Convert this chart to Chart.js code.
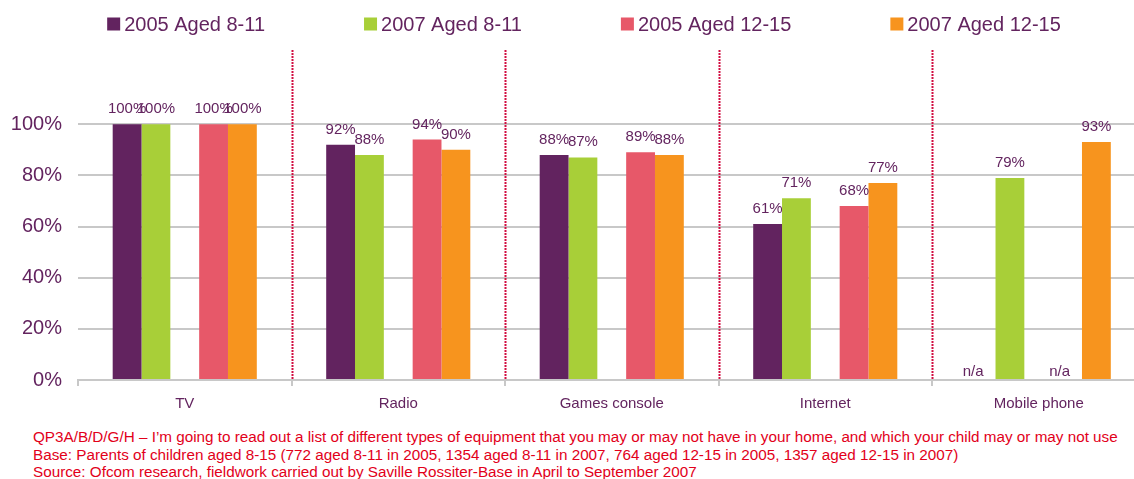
<!DOCTYPE html>
<html>
<head>
<meta charset="utf-8">
<title>Equipment in the home</title>
<script src="https://cdn.jsdelivr.net/npm/chart.js@4.4.2/dist/chart.umd.min.js"></script>
<style>
  html, body { margin: 0; padding: 0; background: #fff; overflow: hidden; }
  #wrap { position: absolute; left: 0; top: 0; width: 1168px; height: 420px; }
  #notes {
    position: absolute; left: 33px; top: 428px; margin: 0;
    font: 15.25px "Liberation Sans", Arial, sans-serif; line-height: 17.5px;
    color: #e2001a; white-space: nowrap;
  }
</style>
</head>
<body>
<div id="wrap"><canvas id="chart" width="1168" height="420"></canvas></div>
<p id="notes">
  QP3A/B/D/G/H – I’m going to read out a list of different types of equipment that you may or may not have in your home, and which your child may or may not use<br>
  Base: Parents of children aged 8-15 (772 aged 8-11 in 2005, 1354 aged 8-11 in 2007, 764 aged 12-15 in 2005, 1357 aged 12-15 in 2007)<br>
  Source: Ofcom research, fieldwork carried out by Saville Rossiter-Base in April to September 2007
</p>
<script>
// ── Data ─────────────────────────────────────────────────────
const categories = ['TV', 'Radio', 'Games console', 'Internet', 'Mobile phone'];
const aged8to11_2005  = [100, 92, 88, 61, null];   // null = n/a
const aged8to11_2007  = [100, 88, 87, 71, 79];
const aged12to15_2005 = [100, 94, 89, 68, null];
const aged12to15_2007 = [100, 90, 88, 77, 93];
const yTicks = [0, 20, 40, 60, 80, 100];

const PURPLE = '#62235f';
const GREEN  = '#a8cf38';
const PINK   = '#e75869';
const ORANGE = '#f7941e';
const GRID   = '#c8c8c8';
const TEXT   = '#63245f';
const FONT   = '"Liberation Sans", Arial, sans-serif';

const series = [
  { label: '2005 Aged 8-11',  data: aged8to11_2005,  color: PURPLE },
  { label: '2007 Aged 8-11',  data: aged8to11_2007,  color: GREEN },
  { label: '',                data: categories.map(() => null), color: 'transparent', spacer: true },
  { label: '2005 Aged 12-15', data: aged12to15_2005, color: PINK },
  { label: '2007 Aged 12-15', data: aged12to15_2007, color: ORANGE },
];

// legend row across the top
const topLegend = {
  id: 'topLegend',
  afterDraw(chart) {
    const ctx = chart.ctx;
    const items = series.filter(s => !s.spacer);
    const box = 13, gap = 4, spacing = 99;
    ctx.save();
    ctx.font = `20px ${FONT}`;
    const widths = items.map(s => box + gap + ctx.measureText(s.label).width);
    const total = widths.reduce((a, b) => a + b, 0) + spacing * (items.length - 1);
    let x = (chart.width - total) / 2;
    const y = 24;
    ctx.textBaseline = 'middle';
    items.forEach((s, i) => {
      ctx.fillStyle = s.color;
      ctx.fillRect(x, y - box / 2, box, box);
      ctx.fillStyle = TEXT;
      ctx.fillText(s.label, x + box + gap, y + 1);
      x += widths[i] + spacing;
    });
    ctx.restore();
  }
};

// dotted separators between the categories
const dividers = {
  id: 'dividers',
  beforeDatasetsDraw(chart) {
    const { ctx, chartArea } = chart;
    const xs = chart.scales.x;
    ctx.save();
    ctx.strokeStyle = '#d20f42';
    ctx.lineWidth = 2;
    ctx.setLineDash([2, 1]);
    for (let i = 1; i < categories.length; i++) {
      const x = Math.round((xs.getPixelForValue(i - 1) + xs.getPixelForValue(i)) / 2) + 0.5;
      ctx.beginPath();
      ctx.moveTo(x, chartArea.top);
      ctx.lineTo(x, chartArea.bottom);
      ctx.stroke();
    }
    ctx.restore();
  }
};

// value labels above bars, "n/a" where there is no value
const valueLabels = {
  id: 'valueLabels',
  afterDatasetsDraw(chart) {
    const { ctx, chartArea } = chart;
    ctx.save();
    ctx.font = `15px ${FONT}`;
    ctx.fillStyle = TEXT;
    ctx.textAlign = 'center';
    ctx.textBaseline = 'alphabetic';
    series.forEach((s, di) => {
      if (s.spacer) return;
      chart.getDatasetMeta(di).data.forEach((bar, i) => {
        const v = s.data[i];
        if (v == null) {
          ctx.fillText('n/a', bar.x - 8, chartArea.bottom - 4);
        } else {
          ctx.fillText(v + '%', bar.x, bar.y - 11);
        }
      });
    });
    ctx.restore();
  }
};

new Chart(document.getElementById('chart'), {
  type: 'bar',
  data: {
    labels: categories,
    datasets: series.map(s => ({
      label: s.label,
      data: s.data,
      backgroundColor: s.color,
      borderWidth: 0,
      categoryPercentage: 0.675,
      barPercentage: 1.0,
    })),
  },
  options: {
    responsive: false,
    animation: false,
    devicePixelRatio: 1,
    layout: { padding: { top: 50, right: 22.5, left: 0, bottom: 0 } },
    plugins: {
      legend: { display: false },
      tooltip: { enabled: false },
    },
    scales: {
      x: {
        grid: {
          offset: true,
          drawOnChartArea: false,
          drawTicks: true,
          tickLength: 6,
          color: GRID,
          lineWidth: 2,
        },
        border: { display: true, color: GRID, width: 2 },
        ticks: { color: TEXT, font: { family: FONT, size: 15 }, padding: 9 },
        afterFit(scale) { scale.height = 40; },
      },
      y: {
        min: 0,
        max: 129,
        afterBuildTicks(scale) { scale.ticks = yTicks.map(v => ({ value: v })); },
        grid: { color: GRID, lineWidth: 2, drawTicks: false },
        border: { display: false },
        ticks: {
          color: TEXT,
          font: { family: FONT, size: 20 },
          padding: 16,
          callback: v => v + '%',
        },
        afterFit(scale) { scale.width = 78; },
      },
    },
  },
  plugins: [topLegend, dividers, valueLabels],
});
</script>
</body>
</html>
